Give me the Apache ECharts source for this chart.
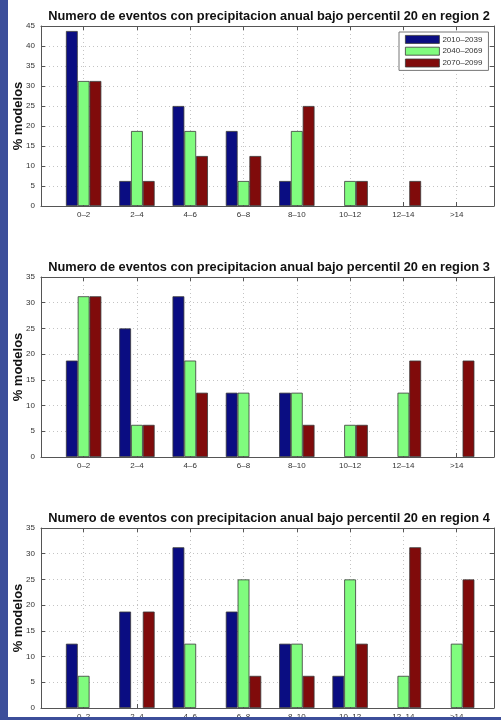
<!DOCTYPE html>
<html>
<head>
<meta charset="utf-8">
<script src="https://cdn.jsdelivr.net/npm/echarts@6/dist/echarts.min.js"></script>
<style>
html,body{margin:0;padding:0;background:#fff;}
#c{width:501px;height:720px;}
</style>
</head>
<body>
<div id="c"></div>
<script>
const categories = ['0\u20132','2\u20134','4\u20136','6\u20138','8\u201310','10\u201312','12\u201314','>14'];
const periods = ['2010\u20132039','2040\u20132069','2070\u20132099'];
const titles = [
  'Numero de eventos con precipitacion anual bajo percentil 20 en region 2',
  'Numero de eventos con precipitacion anual bajo percentil 20 en region 3',
  'Numero de eventos con precipitacion anual bajo percentil 20 en region 4'
];
const yMax = [45, 35, 35];

// region 2
const r2_2010 = [43.75, 6.25, 25, 18.75, 6.25, 0, 0, 0];
const r2_2040 = [31.25, 18.75, 18.75, 6.25, 18.75, 6.25, 0, 0];
const r2_2070 = [31.25, 6.25, 12.5, 12.5, 25, 6.25, 6.25, 0];
// region 3
const r3_2010 = [18.75, 25, 31.25, 12.5, 12.5, 0, 0, 0];
const r3_2040 = [31.25, 6.25, 18.75, 12.5, 12.5, 6.25, 12.5, 0];
const r3_2070 = [31.25, 6.25, 12.5, 0, 6.25, 6.25, 18.75, 18.75];
// region 4
const r4_2010 = [12.5, 18.75, 31.25, 18.75, 12.5, 6.25, 0, 0];
const r4_2040 = [6.25, 0, 12.5, 25, 12.5, 25, 6.25, 12.5];
const r4_2070 = [0, 18.75, 0, 6.25, 6.25, 12.5, 31.25, 25];

const regionData = [
  [r2_2010, r2_2040, r2_2070],
  [r3_2010, r3_2040, r3_2070],
  [r4_2010, r4_2040, r4_2070]
];
const colors = ['#0a0d82', '#80fc7e', '#800b0b'];

const FONT = 'Liberation Sans, Arial, Helvetica, sans-serif';
const gridTops = [26, 277, 528];
const gridH = 180;
const L = 41, R = 7;
const positions = categories.map((c, i) => i + 1);

const grids = [], xAxes = [], yAxes = [], series = [], titleOpts = [];
gridTops.forEach((top, g) => {
  grids.push({left: L, right: R, top: top, height: gridH, show: false, containLabel: false, outerBoundsMode: 'none'});
  const tickStyle = {show: true, inside: true, length: 4, lineStyle: {color: '#555', width: 1}, customValues: positions};
  xAxes.push({
    type: 'value', gridIndex: g, min: 0.2, max: 8.7, position: 'bottom',
    axisLine: {show: true, onZero: false, lineStyle: {color: '#555', width: 1}},
    axisTick: tickStyle,
    axisLabel: {show: true, customValues: positions, margin: 5, fontSize: 8, color: '#333', fontFamily: FONT,
      formatter: v => categories[Math.round(v) - 1] || ''},
    splitLine: {show: true, lineStyle: {color: '#c4c4c4', type: [1, 3], width: 1}}
  });
  xAxes.push({
    type: 'value', gridIndex: g, min: 0.2, max: 8.7, position: 'top',
    axisLine: {show: true, onZero: false, lineStyle: {color: '#555', width: 1}},
    axisTick: tickStyle,
    axisLabel: {show: false}, splitLine: {show: false}
  });
  const yt = {show: true, inside: true, length: 4, lineStyle: {color: '#555', width: 1}};
  yAxes.push({
    type: 'value', gridIndex: g, min: 0, max: yMax[g], interval: 5, position: 'left',
    axisLine: {show: true, onZero: false, lineStyle: {color: '#555', width: 1}},
    axisTick: yt,
    axisLabel: {show: true, margin: 6, fontSize: 8, color: '#333', fontFamily: FONT},
    splitLine: {show: true, lineStyle: {color: '#c4c4c4', type: [1, 3], width: 1}},
    name: '% modelos', nameLocation: 'middle', nameGap: 16, nameRotate: 90, nameMoveOverlap: false,
    nameTextStyle: {fontSize: 13, fontWeight: 'bold', color: '#111', fontFamily: FONT}
  });
  yAxes.push({
    type: 'value', gridIndex: g, min: 0, max: yMax[g], interval: 5, position: 'right',
    axisLine: {show: true, onZero: false, lineStyle: {color: '#555', width: 1}},
    axisTick: yt, axisLabel: {show: false}, splitLine: {show: false}
  });
  titleOpts.push({
    text: titles[g], left: 264, top: top - 21, textAlign: 'center',
    textStyle: {fontSize: 12.8, fontWeight: 'bold', color: '#111', fontFamily: FONT}
  });
  regionData[g].forEach((arr, s) => {
    series.push({
      type: 'bar', name: periods[s], xAxisIndex: g * 2, yAxisIndex: g * 2,
      data: arr.map((v, i) => [positions[i], v === 0 ? '-' : v]),
      barWidth: 11.8, barGap: '0%',
      itemStyle: {color: colors[s], borderColor: '#3a3a3a', borderWidth: 0.8},
      silent: true, animation: false
    });
  });
});

const chart = echarts.init(document.getElementById('c'), null, {renderer: 'canvas'});
chart.setOption({
  backgroundColor: '#ffffff',
  animation: false,
  title: titleOpts,
  legend: {
    data: periods, orient: 'vertical', left: 399, top: 32, itemWidth: 34, itemHeight: 8, itemGap: 3,
    backgroundColor: '#fff', borderColor: '#777', borderWidth: 1, borderRadius: 0, padding: [3, 6, 3, 6],
    icon: 'rect', itemStyle: {borderColor: '#3a3a3a', borderWidth: 0.8},
    textStyle: {fontSize: 8, color: '#333', fontFamily: FONT, padding: [0, 0, 0, -2]}
  },
  grid: grids, xAxis: xAxes, yAxis: yAxes, series: series,
  graphic: [
    {type: 'rect', shape: {x: 0, y: 0, width: 8, height: 720}, style: {fill: '#3c4e9a'}, z: 100},
    {type: 'rect', shape: {x: 0, y: 717, width: 501, height: 3}, style: {fill: '#3c4e9a'}, z: 100}
  ]
});
</script>
</body>
</html>
